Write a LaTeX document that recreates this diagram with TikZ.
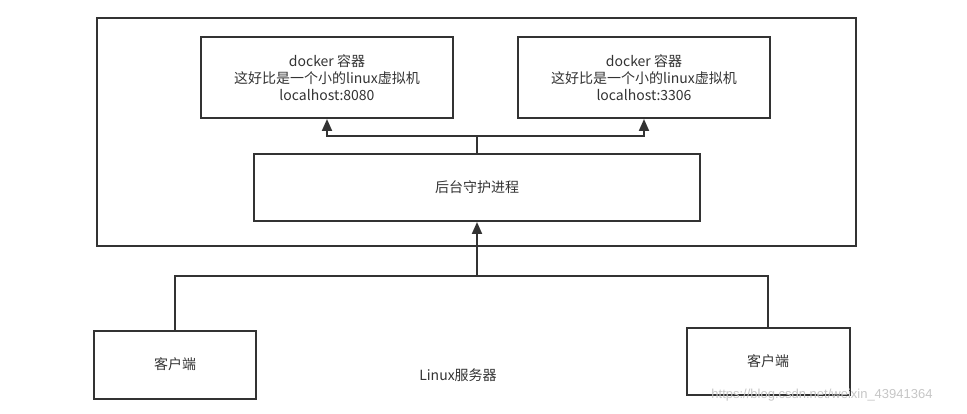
\documentclass[tikz,border=0pt]{standalone}
\usepackage{fontspec}
\setmainfont{Noto Sans CJK SC}
\newfontfamily\markfont{Liberation Sans}
\usetikzlibrary{arrows.meta}
\definecolor{linegray}{HTML}{333333}
\begin{document}
\begin{tikzpicture}[x=1pt,y=-1pt,
box/.style={draw=linegray,line width=2pt,rectangle,inner sep=0pt,align=center,text=linegray,font=\fontsize{14}{17}\selectfont},
arr/.style={draw=linegray,line width=2pt,-{Triangle[length=12pt,width=10pt]}},
wire/.style={draw=linegray,line width=2pt}]
\useasboundingbox (0,0) rectangle (967,414);

\node[box,minimum width=759pt,minimum height=228pt] (server) at (476.5,132) {};
\node[box,minimum width=252pt,minimum height=81pt] (c1) at (327,77.5) {docker 容器\\这好比是一个小的linux虚拟机\\localhost:8080};
\node[box,minimum width=252pt,minimum height=81pt] (c2) at (644,77.5) {docker 容器\\这好比是一个小的linux虚拟机\\localhost:3306};
\node[box,minimum width=446pt,minimum height=67pt] (daemon) at (477,187.5) {后台守护进程};
\node[box,minimum width=162pt,minimum height=68pt] (cl1) at (175,364.5) {客户端};
\node[box,minimum width=163pt,minimum height=67pt] (cl2) at (768,361.3) {客户端};
\node[text=linegray,font=\fontsize{14}{17}\selectfont] (label) at (458,375) {Linux服务器};
\node[text=gray!45,font=\markfont\fontsize{13}{15}\selectfont] (mark) at (822,395) {https://blog.csdn.net/weixin\_43941364};

\coordinate (split) at (477,136);
\coordinate (merge) at (477,276);

\draw[wire] (daemon.north) -- (split);
\draw[arr] (split) -| (c1);
\draw[arr] (split) -| (c2);
\draw[arr] (cl1) |- (merge) -- (daemon);
\draw[wire] (cl2) |- (merge);
\end{tikzpicture}
\end{document}
